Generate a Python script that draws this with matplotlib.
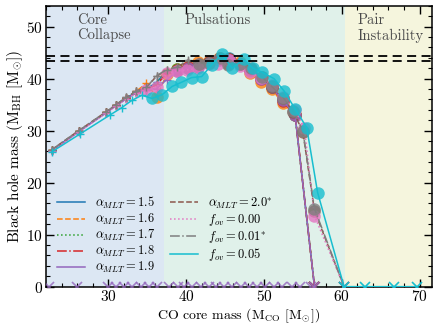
import matplotlib
matplotlib.use("Agg")
import matplotlib.pyplot as plt
from matplotlib.ticker import MultipleLocator

plt.rcParams["font.family"] = "serif"
plt.rcParams["font.serif"] = ["cmr10"]
plt.rcParams["mathtext.fontset"] = "cm"
plt.rcParams["axes.formatter.use_mathtext"] = True

# ---- model grids: CO core mass vs. black hole mass ----
a15_x = [22.7, 26.2, 29.7, 31.0, 32.3, 33.6, 34.9, 36.2, 37.5, 38.8, 40.2, 41.5, 42.9,
         44.2, 45.5, 46.9, 48.2, 49.6, 51.0, 52.4, 54.0, 56.5]
a15_y = [26.2, 29.9, 33.5, 34.9, 36.3, 37.4, 38.0, 39.3, 41.5, 41.9, 42.0, 42.2, 43.0,
         43.6, 44.0, 42.8, 41.9, 40.2, 38.5, 36.0, 33.0, 0.0]
a16_x = [22.7, 26.2, 29.7, 31.0, 32.3, 33.6, 34.9, 36.2, 37.5, 38.8, 40.2, 41.5, 42.9,
         44.2, 45.5, 46.9, 48.2, 49.6, 51.0, 52.4, 54.0, 56.5]
a16_y = [26.2, 29.9, 33.5, 34.9, 36.3, 37.6, 39.1, 36.5, 40.8, 41.8, 42.3, 43.2, 43.4,
         44.0, 43.6, 43.2, 41.0, 39.4, 38.0, 35.3, 33.2, 0.0]
a17_x = [22.7, 26.2, 29.7, 31.0, 32.3, 33.6, 34.9, 36.2, 37.5, 38.8, 40.2, 41.5, 42.9,
         44.2, 45.5, 46.9, 48.2, 49.6, 51.0, 52.4, 54.0, 56.5]
a17_y = [26.2, 29.9, 33.5, 34.9, 36.2, 37.4, 38.0, 39.0, 41.2, 41.8, 42.1, 42.4, 43.1,
         43.7, 43.8, 42.9, 41.8, 40.1, 38.4, 35.8, 33.1, 0.0]
a18_x = [22.7, 26.2, 29.7, 31.0, 32.3, 33.6, 34.9, 36.2, 37.5, 38.8, 40.2, 41.5, 42.9,
         44.2, 45.5, 46.9, 48.2, 49.6, 51.0, 52.4, 54.0, 56.5]
a18_y = [26.2, 29.9, 33.5, 34.9, 36.2, 37.3, 37.9, 38.8, 41.0, 41.7, 42.2, 42.6, 43.2,
         43.8, 43.7, 42.9, 41.7, 40.0, 38.3, 35.7, 33.0, 0.0]
a19_x = [22.7, 26.2, 29.7, 31.0, 32.3, 33.6, 34.9, 36.2, 37.5, 38.8, 40.2, 41.5, 42.9,
         44.2, 45.5, 46.9, 48.2, 49.6, 51.0, 52.4, 54.0, 56.5]
a19_y = [26.1, 29.8, 33.4, 34.8, 36.1, 37.3, 37.9, 38.1, 39.8, 41.4, 42.0, 42.5, 43.1,
         43.7, 43.6, 42.8, 41.7, 40.0, 38.3, 35.8, 33.1, 0.0]
a20_x = [22.7, 26.2, 29.7, 31.0, 32.3, 33.6, 34.9, 36.2, 37.5, 38.8, 40.2, 41.6, 43.0,
         44.3, 45.4, 46.9, 48.3, 49.7, 51.0, 52.5, 53.8, 55.0, 56.5, 60.3]
a20_y = [26.3, 30.0, 33.6, 35.0, 36.4, 37.6, 38.3, 40.5, 41.6, 42.2, 43.4, 42.9, 43.2,
         43.9, 42.8, 42.8, 41.9, 40.3, 38.4, 36.2, 33.6, 29.8, 14.6, 0.0]
f000_x = [22.7, 26.2, 29.7, 31.0, 32.3, 33.6, 34.9, 36.2, 37.5, 38.8, 40.1, 41.5, 42.9,
          44.1, 45.5, 46.9, 48.2, 49.6, 51.0, 52.5, 54.0, 55.2, 56.5, 60.3]
f000_y = [26.0, 29.8, 33.4, 34.8, 36.1, 37.2, 37.8, 38.3, 41.0, 41.5, 41.7, 42.0, 42.8,
          42.9, 43.6, 42.5, 41.3, 40.2, 38.7, 36.4, 33.9, 30.5, 13.6, 0.0]
f001_x = [22.7, 26.2, 29.7, 31.0, 32.3, 33.6, 34.9, 36.2, 37.5, 38.8, 40.2, 41.6, 43.0,
          44.3, 45.4, 46.9, 48.3, 49.7, 51.0, 52.5, 53.8, 55.0, 56.5, 60.3]
f001_y = [26.3, 30.0, 33.6, 35.0, 36.4, 37.6, 38.3, 40.6, 41.7, 42.2, 43.6, 42.9, 43.1,
          43.9, 42.7, 42.9, 42.0, 40.4, 38.5, 36.3, 33.7, 30.0, 15.0, 0.0]
f005_x = [22.7, 26.4, 30.2, 31.7, 33.0, 34.3, 35.6, 36.9, 38.2, 39.4, 40.7, 42.0, 43.3,
          44.6, 45.9, 47.4, 48.6, 49.8, 51.3, 52.6, 54.0, 55.5, 56.9, 60.3, 63.0, 66.7, 69.7]
f005_y = [25.9, 29.4, 33.0, 34.4, 35.8, 36.8, 36.2, 36.9, 38.5, 39.3, 40.2, 40.4, 42.7,
          44.7, 42.0, 43.7, 42.0, 41.2, 40.0, 37.6, 34.2, 30.6, 18.1, 0.0, 0.0, 0.0, 0.0]

# number of core-collapse models at the start of each grid
n_cc = [10, 7, 9, 9, 9, 11, 6, 11, 6]

# disrupted (pair-instability) models along the axis
disrupted_x = [22.4, 26.0, 29.9, 31.0, 32.0, 33.1, 34.2, 35.2, 36.3, 37.8, 38.9, 39.7,
               40.8, 41.9, 42.9, 43.8, 44.9, 45.9, 47.0, 48.1, 49.1, 50.2, 51.3, 52.3,
               53.6, 54.7, 56.0, 56.6]

# PISN-gap boundary estimates
gap_lines = [44.4, 43.3]

labels = [r"$\alpha_{MLT} = 1.5$", r"$\alpha_{MLT} = 1.6$", r"$\alpha_{MLT} = 1.7$",
          r"$\alpha_{MLT} = 1.8$", r"$\alpha_{MLT} = 1.9$", r"$\alpha_{MLT} = 2.0^{*}$",
          r"$f_{ov} = 0.00$", r"$f_{ov} = 0.01^{*}$", r"$f_{ov} = 0.05$"]
xs = [a15_x, a16_x, a17_x, a18_x, a19_x, a20_x, f000_x, f001_x, f005_x]
ys = [a15_y, a16_y, a17_y, a18_y, a19_y, a20_y, f000_y, f001_y, f005_y]
colors = ["C0", "C1", "C2", "C3", "C4", "C5", "C6", "C7", "C9"]
styles = ["-", "--", ":", "-.", "-", "--", ":", "-.", "-"]

fig = plt.figure(figsize=(4.35, 3.25), dpi=100)
ax = fig.add_axes([0.106, 0.118, 0.887, 0.864])

ax.axvspan(0, 37.2, color="#dce7f3", lw=0, zorder=0)
ax.axvspan(37.2, 60.4, color="#e0f1ea", lw=0, zorder=0)
ax.axvspan(60.4, 80, color="#f5f5dd", lw=0, zorder=0)

ax.text(26.0, 52.6, "Core\nCollapse", fontsize=10.5, va="top", ha="left",
        color="#4a4a4a", linespacing=1.15)
ax.text(39.8, 52.6, "Pulsations", fontsize=10.5, va="top", ha="left", color="#4a4a4a")
ax.text(62.0, 52.6, "Pair\nInstability", fontsize=10.5, va="top", ha="left",
        color="#4a4a4a", linespacing=1.15)

for y0 in gap_lines:
    ax.axhline(y0, color="black", ls="--", lw=1.3, dashes=(5, 3), zorder=5)

for i, (x, y) in enumerate(zip(xs, ys)):
    z = 3 + i * 0.1
    ax.plot(x, y, color=colors[i], ls=styles[i], lw=1.1, label=labels[i], zorder=z)
    cc = [(a, b) for k, (a, b) in enumerate(zip(x, y)) if k < n_cc[i]]
    pp = [(a, b) for k, (a, b) in enumerate(zip(x, y)) if k >= n_cc[i] and b > 0]
    pi = [(a, b) for a, b in zip(x, y) if b == 0]
    if cc:
        ax.plot(*zip(*cc), ls="none", marker="+", ms=6, mew=1.0, color=colors[i], zorder=z)
    if pp:
        ax.plot(*zip(*pp), ls="none", marker="o", ms=9, mew=0, color=colors[i],
                alpha=0.8, zorder=z)
    if pi:
        ax.plot(*zip(*pi), ls="none", marker="x", ms=7, mew=1.2, color=colors[i], zorder=z)

ax.plot(disrupted_x, [0] * len(disrupted_x), ls="none", marker="x", ms=7, mew=1.2,
        color="C4", alpha=0.8, zorder=3)

ax.set_xlim(22, 71.6)
ax.set_ylim(0, 54)
ax.xaxis.set_major_locator(MultipleLocator(10))
ax.xaxis.set_minor_locator(MultipleLocator(2))
ax.yaxis.set_major_locator(MultipleLocator(10))
ax.yaxis.set_minor_locator(MultipleLocator(2))
ax.tick_params(which="both", direction="in", top=True, right=True, labelsize=11, pad=2.5)
ax.tick_params(axis="x", which="both", pad=1.5)
ax.tick_params(which="major", length=6, width=1)
ax.tick_params(which="minor", length=3, width=0.8)
for s in ax.spines.values():
    s.set_linewidth(1.1)

ax.set_xlabel(r"CO core mass (M$_{\rm CO}$ [M$_{\odot}$])", fontsize=10, va="bottom")
ax.xaxis.set_label_coords(0.5, -0.1348)
ax.set_ylabel(r"Black hole mass (M$_{\rm BH}$ [M$_{\odot}$])", fontsize=11, labelpad=1)

leg = ax.legend(ncol=2, loc="lower left", bbox_to_anchor=(0.0, 0.0), frameon=False,
                fontsize=9, labelspacing=0.08, columnspacing=1.2, handlelength=2.2,
                handletextpad=0.8)

fig.savefig("out.png", dpi=100)
